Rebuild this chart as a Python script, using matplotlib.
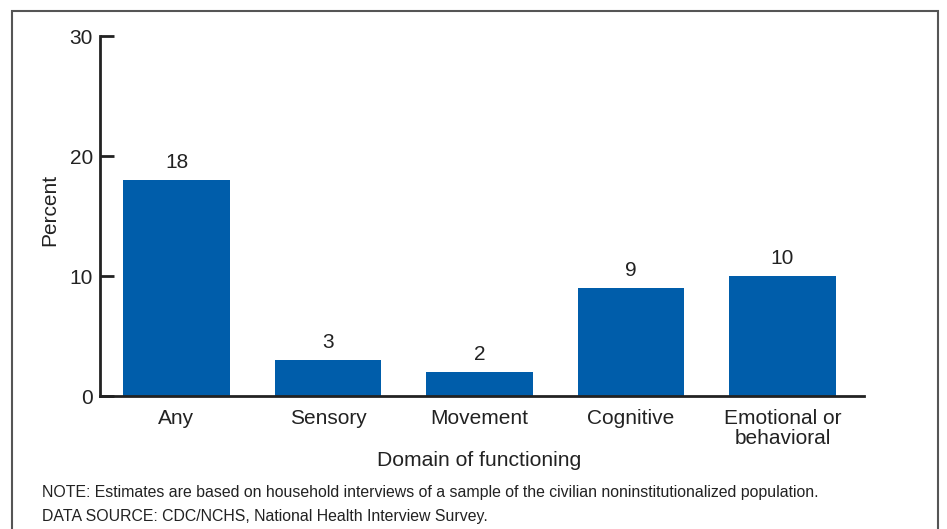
import matplotlib
matplotlib.use("Agg")
import matplotlib.pyplot as plt
from matplotlib.patches import Rectangle

categories = ["Any", "Sensory", "Movement", "Cognitive", "Emotional or\nbehavioral"]
values = [18, 3, 2, 9, 10]
value_labels = ["18", "3", "2", "9", "10"]
yticks = [0, 10, 20, 30]

plt.rcParams['font.family'] = ['Liberation Sans', 'DejaVu Sans']

W, H = 947, 529
fig = plt.figure(figsize=(W/100, H/100), dpi=100)
ax = fig.add_axes([100/W, (H-396)/H, (864-100)/W, (396-36)/H])

x = list(range(len(categories)))
bars = ax.bar(x, values, width=0.706, color="#005DAA")
ax.set_xlim(-0.505, 4.538)
ax.set_ylim(0, 30)
ax.set_yticks(yticks)
ax.set_xticks(x)
ax.set_xticklabels(categories, fontsize=15, color="#222222", linespacing=1.1)
ax.tick_params(axis='x', length=0, pad=9)
ax.tick_params(axis='y', direction='in', length=10, width=2, labelsize=15,
               colors="#222222", pad=5)
for s in ['top', 'right']:
    ax.spines[s].set_visible(False)
for s in ['left', 'bottom']:
    ax.spines[s].set_linewidth(2)
    ax.spines[s].set_color("#222222")

for b, lab in zip(bars, value_labels):
    ax.annotate(lab, (b.get_x() + b.get_width()/2, b.get_height()),
                xytext=(0, 6), textcoords='offset points', ha='center', va='bottom',
                fontsize=15, color="#222222")

fig.text(50/W, 1 - 210/H, "Percent", rotation=90, ha='center', va='center',
         fontsize=15, color="#222222")
fig.text(479/W, 1 - 460/H, "Domain of functioning", ha='center', va='center',
         fontsize=15.2, color="#222222")
fig.text(42/W, 1 - 492/H,
         "NOTE: Estimates are based on household interviews of a sample of the civilian noninstitutionalized population.",
         ha='left', va='center', fontsize=11.4, color="#222222")
fig.text(42/W, 1 - 516/H, "DATA SOURCE: CDC/NCHS, National Health Interview Survey.",
         ha='left', va='center', fontsize=11.4, color="#222222")

fig.patches.append(Rectangle((12/W, -0.05), (938-12)/W, 1.05 - 11/H,
                             transform=fig.transFigure, fill=False,
                             edgecolor="#555555", linewidth=1.5))

fig.savefig("out.png", dpi=100)
